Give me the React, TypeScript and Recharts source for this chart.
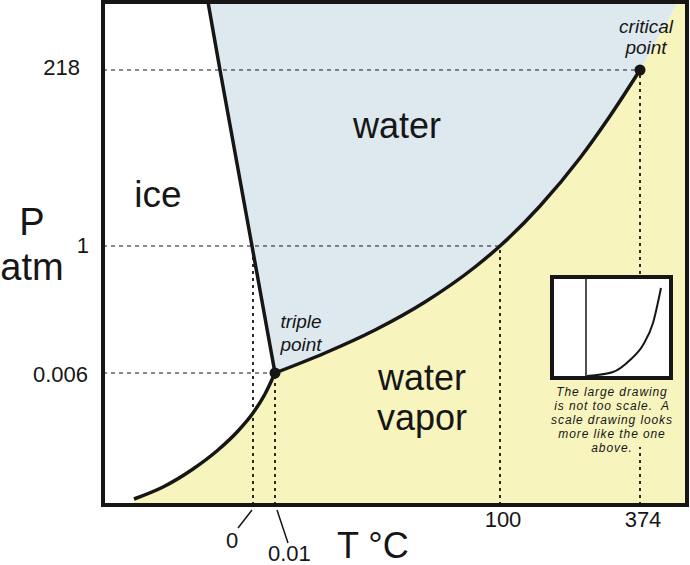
import React from 'react';
import {
  ComposedChart,
  LineChart,
  Area,
  Line,
  Scatter,
  XAxis,
  YAxis,
  ReferenceLine,
  ReferenceArea,
} from 'recharts';

// Schematic (not-to-scale) diagram units
const X_MAX = 584;
const Y_MAX = 503;

// Axis ticks (positions in diagram units) and their labels
const xTickValues = [150, 172, 397, 537];
const xTickLabels = ['0', '0.01', '100', '374'];
const yTickValues = [132, 259, 435];
const yTickLabels = ['0.006', '1', '218'];

// Melting curve (ice / water), from top of diagram down to triple point
const meltingX = [105, 117, 149, 172];
const meltingY = [503, 435, 259, 132];

// Sublimation curve (ice / vapor), up to triple point
const sublimationX = [31, 60, 90, 115, 135, 150, 162, 172];
const sublimationY = [6, 18, 36, 55, 74, 92, 111, 132];

// Vaporization curve (water / vapor), triple point to critical point
const vaporizationX = [172, 222, 272, 322, 372, 397, 437, 477, 507, 537];
const vaporizationY = [132, 152, 175, 203, 238, 259, 299, 347, 389, 435];

// Supercritical boundary between shaded regions, above the critical point
const supercriticalX = [537, 575, 584];
const supercriticalY = [435, 503, 503];

// Special points
const pointNames = ['triple point', 'critical point'];
const pointX = [172, 537];
const pointY = [132, 435];

// Inset: a to-scale sketch
const INSET_W = 115;
const INSET_H = 97;
const insetVerticalX = [32, 32];
const insetVerticalY = [0, 97];
const insetCurveX = [33, 59, 76, 89, 99, 107];
const insetCurveY = [0, 4, 16, 31, 53, 88];
const insetNote = [
  'The large drawing',
  'is not too scale.  A',
  'scale drawing looks',
  'more like the one',
  'above.',
];

const FONT = '"Liberation Sans", Arial, Helvetica, sans-serif';
const INK = '#161616';
const WATER_FILL = '#dde9ef';
const VAPOR_FILL = '#f8f4bd';
const PLOT_BOTTOM = 505;

const zip = (xs: number[], ys: number[]) => xs.map((x, i) => ({ x, y: ys[i] }));

const renderXTick = (props: any) => {
  const { x, payload } = props;
  const idx = xTickValues.indexOf(payload.value);
  const label = xTickLabels[idx];
  const style = { fontFamily: FONT, fontSize: 22, fill: INK } as const;
  if (label === '0') {
    return (
      <g>
        <line x1={x - 1} y1={PLOT_BOTTOM + 5} x2={x - 15} y2={PLOT_BOTTOM + 23} stroke={INK} strokeWidth={1.5} />
        <text x={x - 21} y={PLOT_BOTTOM + 43} textAnchor="middle" {...style}>{label}</text>
      </g>
    );
  }
  if (label === '0.01') {
    return (
      <g>
        <line x1={x + 2} y1={PLOT_BOTTOM + 5} x2={x + 13} y2={PLOT_BOTTOM + 38} stroke={INK} strokeWidth={1.5} />
        <text x={x - 7} y={PLOT_BOTTOM + 56} textAnchor="start" {...style}>{label}</text>
      </g>
    );
  }
  return (
    <text x={x + 3} y={PLOT_BOTTOM + 22} textAnchor="middle" {...style}>{label}</text>
  );
};

const yLabelRight: Record<string, number> = { '218': 80, '1': 89, '0.006': 88 };
const yLabelDy: Record<string, number> = { '218': 5, '1': 7, '0.006': 9 };

const renderYTick = (props: any) => {
  const { y, payload } = props;
  const label = yTickLabels[yTickValues.indexOf(payload.value)];
  return (
    <text
      x={yLabelRight[label]}
      y={y + yLabelDy[label]}
      textAnchor="end"
      fontFamily={FONT}
      fontSize={22}
      fill={INK}
    >
      {label}
    </text>
  );
};

export default function App() {
  const melting = zip(meltingX, meltingY);
  const sublimation = zip(sublimationX, sublimationY);
  const vaporization = zip(vaporizationX, vaporizationY);
  const supercritical = zip(supercriticalX, supercriticalY);
  const points = pointNames.map((name, i) => ({ name, x: pointX[i], y: pointY[i] }));

  const waterRegion = [...melting, ...vaporization.slice(1), ...supercritical.slice(1, 2)].map((p) => ({
    x: p.x,
    range: [p.y, Y_MAX],
  }));
  const vaporRegion = [...sublimation, ...vaporization.slice(1), ...supercritical.slice(1)].map((p) => ({
    x: p.x,
    range: [0, p.y],
  }));

  const insetVertical = zip(insetVerticalX, insetVerticalY);
  const insetCurve = zip(insetCurveX, insetCurveY);

  // dotted guide lines derived from the tick positions / special points
  const [x0, x001, x100, x374] = xTickValues;
  const [y006, y1, y218] = yTickValues;
  const hGuides = [
    { y: y218, xEnd: x374 },
    { y: y1, xEnd: x100 },
    { y: y006, xEnd: x001 },
  ];
  const vGuides = [
    { x: x0, yTop: y1 },
    { x: x001, yTop: y006 },
    { x: x100, yTop: y1 },
    { x: x374, yTop: y218 },
  ];

  const big = { fontFamily: FONT, fill: INK } as const;

  return (
    <div style={{ position: 'absolute', left: 0, top: 0, width: 690, height: 565, background: '#fff', overflow: 'hidden' }}>
      <ComposedChart width={690} height={565} margin={{ top: 2, right: 3, bottom: 0, left: 0 }}>
        <XAxis
          type="number"
          dataKey="x"
          domain={[0, X_MAX]}
          ticks={xTickValues}
          interval={0}
          height={60}
          axisLine={false}
          tickLine={false}
          tick={renderXTick}
          allowDataOverflow
        />
        <YAxis
          type="number"
          domain={[0, Y_MAX]}
          ticks={yTickValues}
          interval={0}
          width={103}
          axisLine={false}
          tickLine={false}
          tick={renderYTick}
          allowDataOverflow
        />
        <Area data={vaporRegion} dataKey="range" type="linear" stroke="none" fill={VAPOR_FILL} fillOpacity={1} isAnimationActive={false} />
        <Area data={waterRegion} dataKey="range" type="linear" stroke="none" fill={WATER_FILL} fillOpacity={1} isAnimationActive={false} />

        {hGuides.map((g, i) => (
          <ReferenceLine
            key={'h' + i}
            segment={[{ x: 0, y: g.y }, { x: g.xEnd, y: g.y }]}
            stroke={INK}
            strokeWidth={1.2}
            strokeDasharray="4 4"
          />
        ))}
        {vGuides.map((g, i) => (
          <ReferenceLine
            key={'v' + i}
            segment={[{ x: g.x, y: 0 }, { x: g.x, y: g.yTop }]}
            stroke={INK}
            strokeWidth={1.8}
            strokeDasharray="3 4"
          />
        ))}

        <Line data={melting} dataKey="y" type="linear" stroke={INK} strokeWidth={3.5} dot={false} isAnimationActive={false} />
        <Line data={sublimation} dataKey="y" type="monotone" stroke={INK} strokeWidth={3.5} dot={false} isAnimationActive={false} />
        <Line data={vaporization} dataKey="y" type="monotone" stroke={INK} strokeWidth={3.5} dot={false} isAnimationActive={false} />
        <Scatter
          data={points}
          dataKey="y"
          isAnimationActive={false}
          shape={(p: any) => <circle cx={p.cx} cy={p.cy} r={5.5} fill={INK} />}
        />

        <ReferenceArea x1={0} x2={X_MAX} y1={0} y2={Y_MAX} fill="none" stroke={INK} strokeWidth={4} />

        <text x={32} y={235} textAnchor="middle" fontSize={38} {...big}>P</text>
        <text x={32} y={280} textAnchor="middle" fontSize={38} {...big}>atm</text>
        <text x={337} y={558} textAnchor="start" fontSize={36} {...big}>T °C</text>
      </ComposedChart>

      <svg
        width={690}
        height={565}
        style={{ position: 'absolute', left: 0, top: 0, pointerEvents: 'none' }}
      >
        <text x={158} y={207} textAnchor="middle" fontSize={37} {...big}>ice</text>
        <text x={397} y={138} textAnchor="middle" fontSize={36} {...big}>water</text>
        <text x={422} y={390} textAnchor="middle" fontSize={36} {...big}>water</text>
        <text x={422} y={430} textAnchor="middle" fontSize={36} {...big}>vapor</text>
        <text x={646} y={33} textAnchor="middle" fontSize={19} fontStyle="italic" {...big}>critical</text>
        <text x={646} y={54} textAnchor="middle" fontSize={19} fontStyle="italic" {...big}>point</text>
        <text x={301} y={328} textAnchor="middle" fontSize={19} fontStyle="italic" {...big}>triple</text>
        <text x={301} y={351} textAnchor="middle" fontSize={19} fontStyle="italic" {...big}>point</text>
      </svg>

      <div
        style={{
          position: 'absolute',
          left: 548,
          top: 275,
          width: 128,
          height: 172,
          background: VAPOR_FILL,
        }}
      >
        <div
          style={{
            position: 'absolute',
            left: 2,
            top: 0,
            width: INSET_W + 8,
            height: INSET_H + 8,
            boxSizing: 'border-box',
            border: `4px solid ${INK}`,
            background: '#fff',
          }}
        >
          <LineChart width={INSET_W} height={INSET_H} margin={{ top: 0, right: 0, bottom: 0, left: 0 }}>
            <XAxis type="number" dataKey="x" domain={[0, INSET_W]} hide allowDataOverflow />
            <YAxis type="number" domain={[0, INSET_H]} hide allowDataOverflow />
            <Line data={insetVertical} dataKey="y" type="linear" stroke={INK} strokeWidth={1.5} dot={false} isAnimationActive={false} />
            <Line data={insetCurve} dataKey="y" type="monotone" stroke={INK} strokeWidth={2} dot={false} isAnimationActive={false} />
          </LineChart>
        </div>
        <div
          style={{
            position: 'absolute',
            left: -6,
            top: 110,
            width: 140,
            textAlign: 'center',
            fontFamily: FONT,
            fontStyle: 'italic',
            fontSize: 12,
            letterSpacing: '0.9px',
            lineHeight: '14px',
            color: INK,
            whiteSpace: 'pre',
          }}
        >
          {insetNote.map((l, i) => (
            <div key={i}>{l}</div>
          ))}
        </div>
      </div>
    </div>
  );
}
